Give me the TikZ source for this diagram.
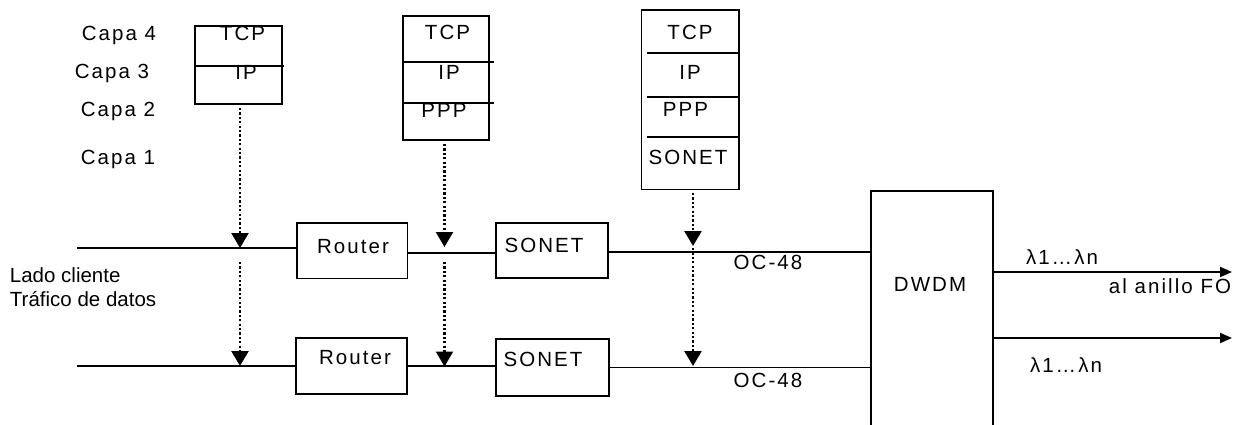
\documentclass[tikz,border=0pt]{standalone}
\usepackage{fontspec}
\setmainfont{Liberation Sans}
\newfontfamily\spaced[LetterSpace=10]{Liberation Sans}
\usetikzlibrary{arrows.meta}

\begin{document}
\begin{tikzpicture}[x=1pt,y=-1pt,
  line width=1.9pt,
  txt/.style={inner sep=0pt, text height=14.5pt, text depth=0pt,
    font=\spaced\fontsize{20.5}{24}\selectfont},
  plain/.style={inner sep=0pt, text height=14.5pt, text depth=0pt,
    font=\fontsize{20.5}{24}\selectfont},
  box/.style={draw, inner sep=0pt},
  dotarrow/.style={line width=2.3pt, dash pattern=on 2.2pt off 2.2pt,
    -{Triangle[width=17pt,length=15pt]}},
  outarrow/.style={-{Triangle[width=10pt,length=12pt]}},
]
\useasboundingbox (0,0) rectangle (1233,425);

% layer names
\node[txt] (capa4) at (119,33)    {Capa 4};
\node[txt] (capa3) at (112,71.5)  {Capa 3};
\node[txt] (capa2) at (118,109)   {Capa 2};
\node[txt] (capa1) at (118,157.5) {Capa 1};

% protocol stacks
\node[box, minimum width=87pt, minimum height=78pt] (stackA) at (238.5,65) {};
\draw (stackA.west |- 0,66) -- ([xshift=1pt]stackA.east |- 0,66);
\node[txt] (tcpA) at (242.5,33) {TCP};
\node[txt] (ipA)  at (246,72)   {IP};

\node[box, minimum width=86pt, minimum height=124pt] (stackB) at (446,78) {};
\draw (stackB.west |- 0,62)  -- ([xshift=4pt]stackB.east |- 0,62);
\draw (stackB.west |- 0,103) -- ([xshift=4pt]stackB.east |- 0,103);
\node[txt] (tcpB) at (447.5,32.5) {TCP};
\node[txt] (ipB)  at (449,72)     {IP};
\node[txt] (pppB) at (444,110)    {PPP};

\node[box, minimum width=97.5pt, minimum height=179.5pt] (stackC) at (690.25,99.75) {};
\foreach \yy in {53,97,137}
  \draw ([xshift=6.5pt]stackC.west |- 0,\yy) -- ([xshift=-2pt]stackC.east |- 0,\yy);
\node[txt] (tcpC)   at (690,32.5)   {TCP};
\node[txt] (ipC)    at (690,72)     {IP};
\node[txt] (pppC)   at (685.5,109.5){PPP};
\node[txt] (sonetC) at (688,157.5)  {SONET};

% equipment
\node[box, minimum width=110.5pt, minimum height=55.5pt] (routerA) at (352.25,250.75) {};
\node[txt] (routerAt) at (353,246) {Router};
\node[box, minimum width=111pt, minimum height=56pt] (routerB) at (351.5,366) {};
\node[txt] (routerBt) at (355,357) {Router};
\node[box, minimum width=112pt, minimum height=55pt] (sonetA) at (552,250.5) {};
\node[txt] (sonetAt) at (544,245) {SONET};
\node[box, minimum width=113pt, minimum height=57pt] (sonetB) at (552.5,367.5) {};
\node[txt] (sonetBt) at (543,359.5) {SONET};

% DWDM multiplexer (runs off the lower edge)
\node[inner sep=0pt, minimum width=120pt, minimum height=236pt] (dwdm) at (932,310) {};
\draw (dwdm.south west) -- (dwdm.north west) -- (dwdm.north east) -- (dwdm.south east);
\node[txt] (dwdmt) at (930,284) {DWDM};

% client side links
\coordinate (srcA) at (77,248);
\coordinate (srcB) at (77,366);
\draw (srcA) -- (srcA -| routerA.west);
\draw (routerA.east |- 0,253) -- (sonetA.west |- 0,253);
\draw (sonetA.east |- 0,252) -- (dwdm.west |- 0,252);
\draw (srcB) -- (srcB -| routerB.west);
\draw (routerB.east |- 0,366) -- (sonetB.west |- 0,366);
\draw (sonetB.east |- 0,367.5) -- (dwdm.west |- 0,367.5);

\node[txt] (ocA) at (768,262.5) {OC-48};
\node[txt] (ocB) at (768,380.5) {OC-48};

\node[plain, anchor=west] (lado)    at (9,275) {Lado cliente};
\node[plain, anchor=west] (trafico) at (9,299) {Tráfico de datos};

% line side outputs
\coordinate (outA) at (1232,272);
\coordinate (outB) at (1232,338);
\draw[outarrow] (dwdm.east |- outA) -- (outA);
\draw[outarrow] (dwdm.east |- outB) -- (outB);
\node[txt] (lamA)  at (1062,257.5) {λ1…λn};
\node[txt] (lamB)  at (1066,365)   {λ1…λn};
\node[txt] (anillo) at (1170,286.5) {al anillo FO};

% layer mapping (dotted drops)
\draw[dotarrow] ([shift={(1.5,3)}]stackA.south) -- (240,248);
\draw[dotarrow] (240,262) -- (240,366);
\draw[dotarrow] ([shift={(-1.5,3)}]stackB.south) -- (444.5,247);
\draw[dotarrow] (444.5,262) -- (444.5,366.5);
\draw[dotarrow] ([shift={(2.75,2.5)}]stackC.south) -- (693,246);
\draw[dotarrow] (693,248) -- (693,366);
\end{tikzpicture}
\end{document}
